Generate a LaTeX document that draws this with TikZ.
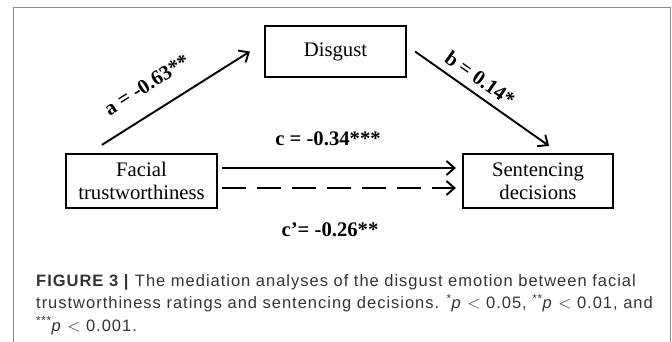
\documentclass[tikz,border=0pt]{standalone}
\usepackage{fontspec}
\setmainfont{Liberation Serif}
\newfontfamily\capfont[LetterSpace=6]{Liberation Sans}
\usepackage{xcolor}
\usetikzlibrary{positioning,calc,arrows.meta}
\definecolor{capgray}{HTML}{333333}
\definecolor{framegray}{HTML}{8C8C8C}

\begin{document}
\begin{tikzpicture}[x=1pt,y=-1pt,font=\fontsize{20.7}{23.5}\selectfont,
 v/.style={draw,line width=2.2pt,inner sep=0pt,align=center},
 l/.style={font=\fontsize{20.7}{23.5}\selectfont\bfseries,inner sep=0pt},
 ar/.style={line width=1.9pt,-{Straight Barb[length=8pt,width=14pt,line width=1.9pt]}}]
\useasboundingbox (0,0) rectangle (672,342);
\draw[framegray,line width=0.8pt] (13,342) -- (13,7) -- (670,7) -- (670,342);
\node[v,minimum width=141pt,minimum height=51pt] (dg) at (335.5,51.5) {Disgust};
\node[v,minimum width=151pt,minimum height=54pt] (ft) at (141.5,181)
 {Facial\\trustworthiness};
\node[v,minimum width=150pt,minimum height=54pt] (sd) at (538,181)
 {Sentencing\\decisions};
\draw[ar] ([shift={(37,-8)}]ft.north west) -- node[l,sloped,above=19pt,pos=0.4] {a = -0.63**}
 ([xshift=-14pt]dg.west);
\draw[ar] ([xshift=8pt]dg.east) -- node[l,sloped,above=7pt,pos=0.42] {b = 0.14*}
 ([shift={(11,-7)}]sd.north);
\draw[ar] ([shift={(4,-13)}]ft.east) -- node[l,above=21pt,xshift=-11pt] {c = -0.34***}
 ([shift={(-6,-13)}]sd.west);
\draw[ar,dash pattern=on 24pt off 11pt] ([shift={(4,7)}]ft.east) --
 node[l,below=34pt,xshift=-9pt] {c’= -0.26**} ([shift={(-6,7)}]sd.west);
\node[anchor=north west,align=left,text=capgray,inner sep=0pt,
 font=\capfont\fontsize{16.5}{22.5}\selectfont] (cap) at (36,274)
 {\textbf{FIGURE 3 |} The mediation analyses of the disgust emotion between facial\\
 trustworthiness ratings and sentencing decisions. \textsuperscript{*}\textit{p} $<$ 0.05, \textsuperscript{**}\textit{p} $<$ 0.01, and\\
 \textsuperscript{***}\textit{p} $<$ 0.001.};
\end{tikzpicture}
\end{document}
